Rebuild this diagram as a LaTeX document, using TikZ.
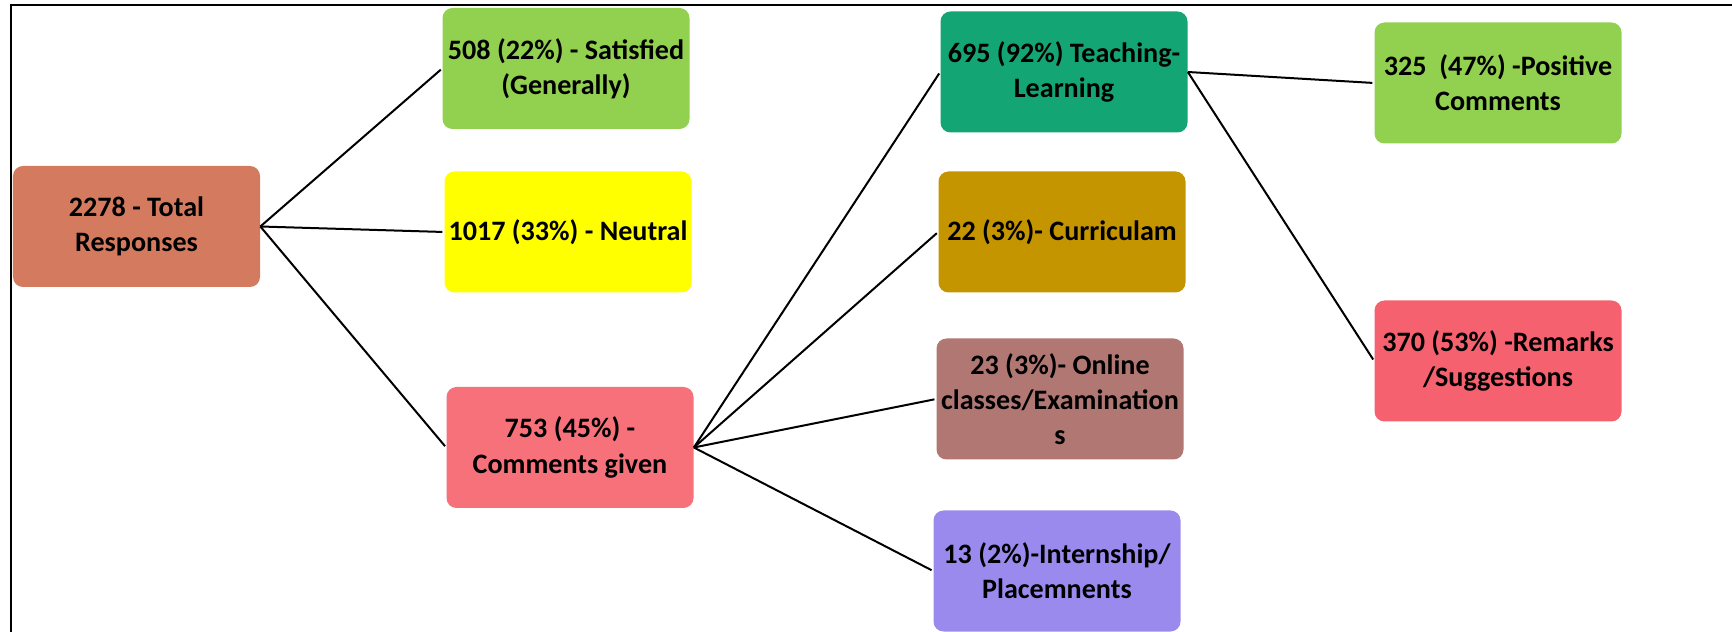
\documentclass[tikz,border=0pt]{standalone}
\usepackage{fontspec}
\setmainfont{Carlito}
\usepackage{xcolor}
\usepackage{tikz}

\definecolor{totalc}{HTML}{D47A5E}
\definecolor{greenc}{HTML}{92D050}
\definecolor{neutralc}{HTML}{FFFF00}
\definecolor{commentc}{HTML}{F6717A}
\definecolor{teachc}{HTML}{14A574}
\definecolor{curric}{HTML}{C59500}
\definecolor{onlinec}{HTML}{B07773}
\definecolor{internc}{HTML}{9B8AEE}
\definecolor{remarkc}{HTML}{F5616E}

\begin{document}
\begin{tikzpicture}[x=0.2mm, y=-0.2mm,
  box/.style={rectangle, rounded corners=2mm, minimum width=49.4mm, minimum height=24.2mm,
    align=center, inner sep=0pt, font=\fontsize{16}{20}\selectfont\bfseries},
  link/.style={line width=0.4mm, shorten >=1pt}]
\useasboundingbox (0, 0) rectangle (1732, 632);
\draw[line width=0.4mm] (11, 632) -- (11, 5.5) -- (1732, 5.5);
\node[box, fill=totalc] (total) at (136.5, 226.5) {2278 - Total\\Responses};
\node[box, fill=greenc] (sat) at (566, 68.5) {508 (22\%) - Satisfied\\(Generally)};
\node[box, fill=neutralc] (neutral) at (568, 232) {1017 (33\%) - Neutral};
\node[box, fill=commentc] (comments) at (570, 447.5) {753 (45\%) -\\Comments given};
\node[box, fill=teachc] (teach) at (1064, 72) {695 (92\%) Teaching-\\Learning};
\node[box, fill=curric] (curri) at (1062, 232) {22 (3\%)- Curriculam};
\node[box, fill=onlinec] (online) at (1060, 399) {23 (3\%)- Online\\classes/Examination\\s};
\node[box, fill=internc] (intern) at (1057, 571) {13 (2\%)-Internship/\\Placemnents};
\node[box, fill=greenc] (positive) at (1498, 83) {325~~(47\%) -Positive\\Comments};
\node[box, fill=remarkc] (remarks) at (1498, 361) {370 (53\%) -Remarks\\/Suggestions};
\draw[link] (total.east) -- (sat.west);
\draw[link] (total.east) -- (neutral.west);
\draw[link] (total.east) -- (comments.west);
\draw[link] (comments.east) -- (teach.west);
\draw[link] (comments.east) -- (curri.west);
\draw[link] (comments.east) -- (online.west);
\draw[link] (comments.east) -- (intern.west);
\draw[link] (teach.east) -- (positive.west);
\draw[link] (teach.east) -- (remarks.west);
\end{tikzpicture}
\end{document}
